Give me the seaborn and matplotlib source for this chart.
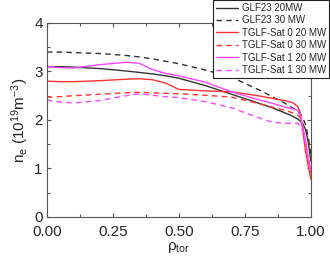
import matplotlib
matplotlib.use("Agg")
import matplotlib.pyplot as plt
import seaborn as sns
import pandas as pd
from matplotlib.ticker import MultipleLocator

rho = [0, .05, .1, .2, .3, .35, .4, .45, .5, .6, .7, .8, .85, .9, .93, .95, .96, .97, .98, .99, 1.0]
glf23_20 = [3.10, 3.10, 3.09, 3.06, 3.01, 2.98, 2.95, 2.91, 2.86, 2.71, 2.53, 2.35, 2.26, 2.15, 2.08, 2.02, 1.98, 1.92, 1.80, 1.55, 1.15]
glf23_30 = [3.40, 3.40, 3.39, 3.37, 3.33, 3.30, 3.26, 3.21, 3.16, 3.03, 2.88, 2.63, 2.49, 2.35, 2.25, 2.17, 2.12, 2.04, 1.90, 1.65, 1.28]
sat0_20 = [2.80, 2.79, 2.79, 2.81, 2.84, 2.85, 2.83, 2.76, 2.63, 2.60, 2.58, 2.50, 2.45, 2.40, 2.36, 2.28, 2.15, 1.75, 1.35, 1.05, 0.78]
sat0_30 = [2.47, 2.48, 2.50, 2.53, 2.56, 2.57, 2.56, 2.55, 2.54, 2.51, 2.47, 2.34, 2.27, 2.20, 2.15, 2.10, 2.05, 1.85, 1.55, 1.20, 0.90]
sat1_20 = [3.10, 3.08, 3.07, 3.14, 3.19, 3.17, 3.04, 2.96, 2.91, 2.78, 2.58, 2.42, 2.35, 2.27, 2.23, 2.20, 2.10, 1.85, 1.55, 1.20, 0.95]
sat1_30 = [2.41, 2.37, 2.35, 2.40, 2.50, 2.54, 2.51, 2.48, 2.46, 2.38, 2.25, 2.05, 1.96, 1.93, 1.93, 1.93, 1.88, 1.75, 1.50, 1.20, 0.95]

labels = ["GLF23 20MW", "GLF23 30 MW", "TGLF-Sat 0 20 MW", "TGLF-Sat 0 30 MW",
          "TGLF-Sat 1 20 MW", "TGLF-Sat 1 30 MW"]
series = [glf23_20, glf23_30, sat0_20, sat0_30, sat1_20, sat1_30]
colors = ["#333333", "#333333", "#ff3333", "#ff3333", "#ff44ff", "#ff44ff"]
styles = ["-", (0, (4, 3)), "-", (0, (4, 3)), "-", (0, (4, 3))]

sns.set_style("ticks")
plt.rcParams['font.family'] = ['Liberation Sans', 'DejaVu Sans']
plt.rcParams['mathtext.default'] = 'regular'

fig = plt.figure(figsize=(3.3, 2.58), dpi=100)
ax = fig.add_axes([0.142, 0.159, 0.800, 0.752])

for lab, vals, c, ls in zip(labels, series, colors, styles):
    df = pd.DataFrame({"rho": rho, "ne": vals})
    sns.lineplot(data=df, x="rho", y="ne", ax=ax, color=c, linestyle=ls,
                 linewidth=1.0, label=lab, sort=False)

ax.set_xlim(0, 1)
ax.set_ylim(0, 4)
ax.xaxis.set_major_locator(MultipleLocator(0.25))
ax.xaxis.set_minor_locator(MultipleLocator(0.125))
ax.yaxis.set_major_locator(MultipleLocator(1))
ax.yaxis.set_minor_locator(MultipleLocator(0.5))
ax.xaxis.set_major_formatter(matplotlib.ticker.FormatStrFormatter('%.2f'))
ax.tick_params(which='both', direction='in', top=True, right=True,
               color='#555555', labelsize=11, width=0.8)
ax.tick_params(which='major', length=3)
ax.tick_params(which='minor', length=2)
ax.tick_params(axis='x', pad=5.5)
ax.tick_params(axis='y', pad=3)
for s in ax.spines.values():
    s.set_visible(True)
    s.set_color('#555555')
    s.set_linewidth(0.8)

ax.set_xlabel("ρ$_{tor}$", fontsize=11, labelpad=1)
ax.set_ylabel("n$_e$ (10$^{19}$m$^{-3}$)", fontsize=11, labelpad=2)

leg = ax.legend(loc='upper right', bbox_to_anchor=(0.997, 1.0),
                bbox_transform=fig.transFigure, fontsize=7, frameon=True,
                fancybox=False, edgecolor='#222222', framealpha=1,
                handlelength=2.3, handletextpad=0.4, labelspacing=0.25,
                borderpad=0.3, borderaxespad=0)
leg.get_frame().set_linewidth(0.8)

fig.savefig("out.png", dpi=100)
